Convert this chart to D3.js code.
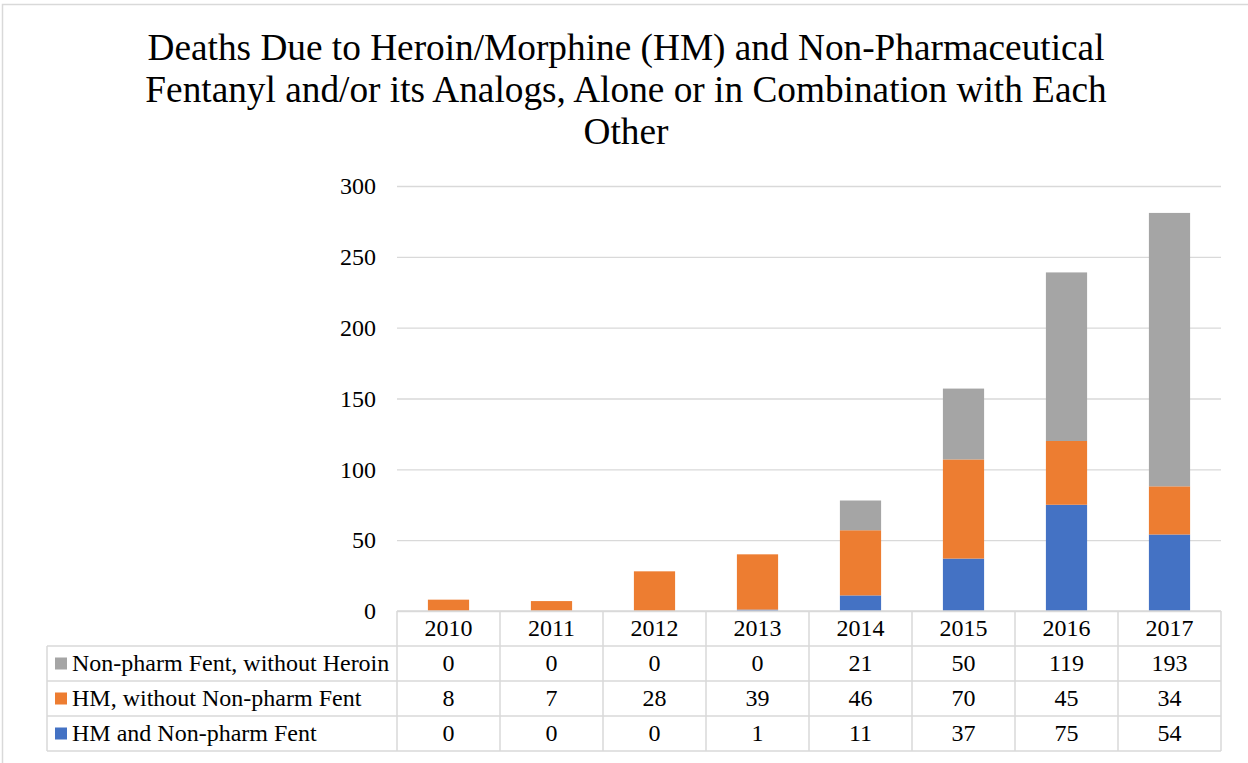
<!DOCTYPE html>
<html>
<head>
<meta charset="utf-8">
<script src="https://cdn.jsdelivr.net/npm/d3@7"></script>
<style>
  body { margin: 0; background: #fff; }
</style>
</head>
<body>
<svg width="1248" height="763"></svg>
<script>
const years = ['2010', '2011', '2012', '2013', '2014', '2015', '2016', '2017'];
const seriesNames = ['HM and Non-pharm Fent', 'HM, without Non-pharm Fent', 'Non-pharm Fent, without Heroin'];
const hmAndFent = [0, 0, 0, 1, 11, 37, 75, 54];
const hmOnly = [8, 7, 28, 39, 46, 70, 45, 34];
const fentOnly = [0, 0, 0, 0, 21, 50, 119, 193];
const colors = ['#4472C4', '#ED7D31', '#A5A5A5'];
const yTicks = [0, 50, 100, 150, 200, 250, 300];
const titleLines = [
  'Deaths Due to Heroin/Morphine (HM) and Non-Pharmaceutical',
  'Fentanyl and/or its Analogs, Alone or in Combination with Each',
  'Other'
];

const serif = '"Liberation Serif", "Times New Roman", "DejaVu Serif", serif';
const svg = d3.select('svg')
  .attr('font-family', serif);
const margin = { left: 397, right: 27, top: 186, bottom: 152 };
const width = +svg.attr('width');
const height = +svg.attr('height');
const innerWidth = width - margin.left - margin.right;
const innerHeight = height - margin.top - margin.bottom;
const gridColor = '#d9d9d9';
const fontSize = '24px';

// chart border (only top and left edges are inside the picture)
svg.append('path')
  .attr('d', `M2.5,${height}V4.5H${width}`)
  .attr('fill', 'none').attr('stroke', gridColor).attr('stroke-width', 1.5);

svg.append('g').selectAll('text')
  .data(titleLines)
  .join('text')
    .attr('x', 626)
    .attr('y', (d, i) => 59.5 + i * 42.3)
    .attr('text-anchor', 'middle')
    .style('font-size', '37.3px')
    .text(d => d);

const g = svg.append('g')
  .attr('transform', `translate(${margin.left},${margin.top})`);

const xScale = d3.scaleBand().domain(years).range([0, innerWidth]).paddingInner(0.6).paddingOuter(0.3);
const colScale = d3.scaleBand().domain(years).range([0, innerWidth]);
const yScale = d3.scaleLinear().domain([0, 300]).range([innerHeight, 0]);

const yAxis = d3.axisLeft(yScale)
  .tickValues(yTicks)
  .tickSize(-innerWidth)
  .tickPadding(21);

const yAxisG = g.append('g').call(yAxis)
  .attr('font-family', serif)
  .attr('font-size', null);
yAxisG.select('.domain').remove();
yAxisG.selectAll('.tick line').attr('stroke', gridColor).attr('stroke-width', 1.3);
yAxisG.selectAll('.tick text')
  .attr('fill', '#000')
  .style('font-size', fontSize)
  .attr('dy', '0.32em');

const table = years.map((y, i) => ({ year: y, 0: hmAndFent[i], 1: hmOnly[i], 2: fentOnly[i] }));
const stacked = d3.stack().keys([0, 1, 2])(table);

g.append('g').selectAll('g')
  .data(stacked)
  .join('g')
    .attr('fill', (d, i) => colors[i])
  .selectAll('rect')
  .data(d => d)
  .join('rect')
    .attr('x', d => xScale(d.data.year))
    .attr('y', d => yScale(d[1]))
    .attr('width', xScale.bandwidth())
    .attr('height', d => yScale(d[0]) - yScale(d[1]));

// data table
const rowH = 35;
const tableLeft = 47 - margin.left;
const tg = g.append('g').attr('transform', `translate(0,${innerHeight})`);

const rows = [
  { name: seriesNames[2], values: fentOnly, color: colors[2] },
  { name: seriesNames[1], values: hmOnly, color: colors[1] },
  { name: seriesNames[0], values: hmAndFent, color: colors[0] }
];

const lineStyle = sel => sel.attr('stroke', gridColor).attr('stroke-width', 1.5);

// horizontal lines
tg.append('line').attr('x1', 0).attr('x2', innerWidth).attr('y1', 0).attr('y2', 0).call(lineStyle);
[1, 2, 3, 4].forEach(r => {
  tg.append('line').attr('x1', tableLeft).attr('x2', innerWidth)
    .attr('y1', r * rowH).attr('y2', r * rowH).call(lineStyle);
});
// vertical lines
tg.append('line').attr('x1', tableLeft).attr('x2', tableLeft).attr('y1', rowH).attr('y2', 4 * rowH).call(lineStyle);
years.forEach(y => {
  tg.append('line').attr('x1', colScale(y)).attr('x2', colScale(y)).attr('y1', 0).attr('y2', 4 * rowH).call(lineStyle);
});
tg.append('line').attr('x1', innerWidth).attr('x2', innerWidth).attr('y1', 0).attr('y2', 4 * rowH).call(lineStyle);

tg.selectAll('.year')
  .data(years)
  .join('text')
    .attr('class', 'year')
    .attr('x', d => colScale(d) + colScale.bandwidth() / 2)
    .attr('y', rowH / 2)
    .attr('dy', '0.33em')
    .attr('text-anchor', 'middle')
    .style('font-size', fontSize)
    .text(d => d);

const rowG = tg.selectAll('.row')
  .data(rows)
  .join('g')
    .attr('class', 'row')
    .attr('transform', (d, i) => `translate(0,${(i + 1) * rowH})`);

rowG.append('rect')
  .attr('x', tableLeft + 8).attr('y', rowH / 2 - 6)
  .attr('width', 12).attr('height', 12)
  .attr('fill', d => d.color);

rowG.append('text')
  .attr('x', tableLeft + 25)
  .attr('y', rowH / 2)
  .attr('dy', '0.33em')
  .style('font-size', fontSize)
  .text(d => d.name);

rowG.selectAll('.val')
  .data(d => d.values)
  .join('text')
    .attr('class', 'val')
    .attr('x', (d, i) => colScale(years[i]) + colScale.bandwidth() / 2)
    .attr('y', rowH / 2)
    .attr('dy', '0.33em')
    .attr('text-anchor', 'middle')
    .style('font-size', fontSize)
    .text(d => d);
</script>
</body>
</html>
